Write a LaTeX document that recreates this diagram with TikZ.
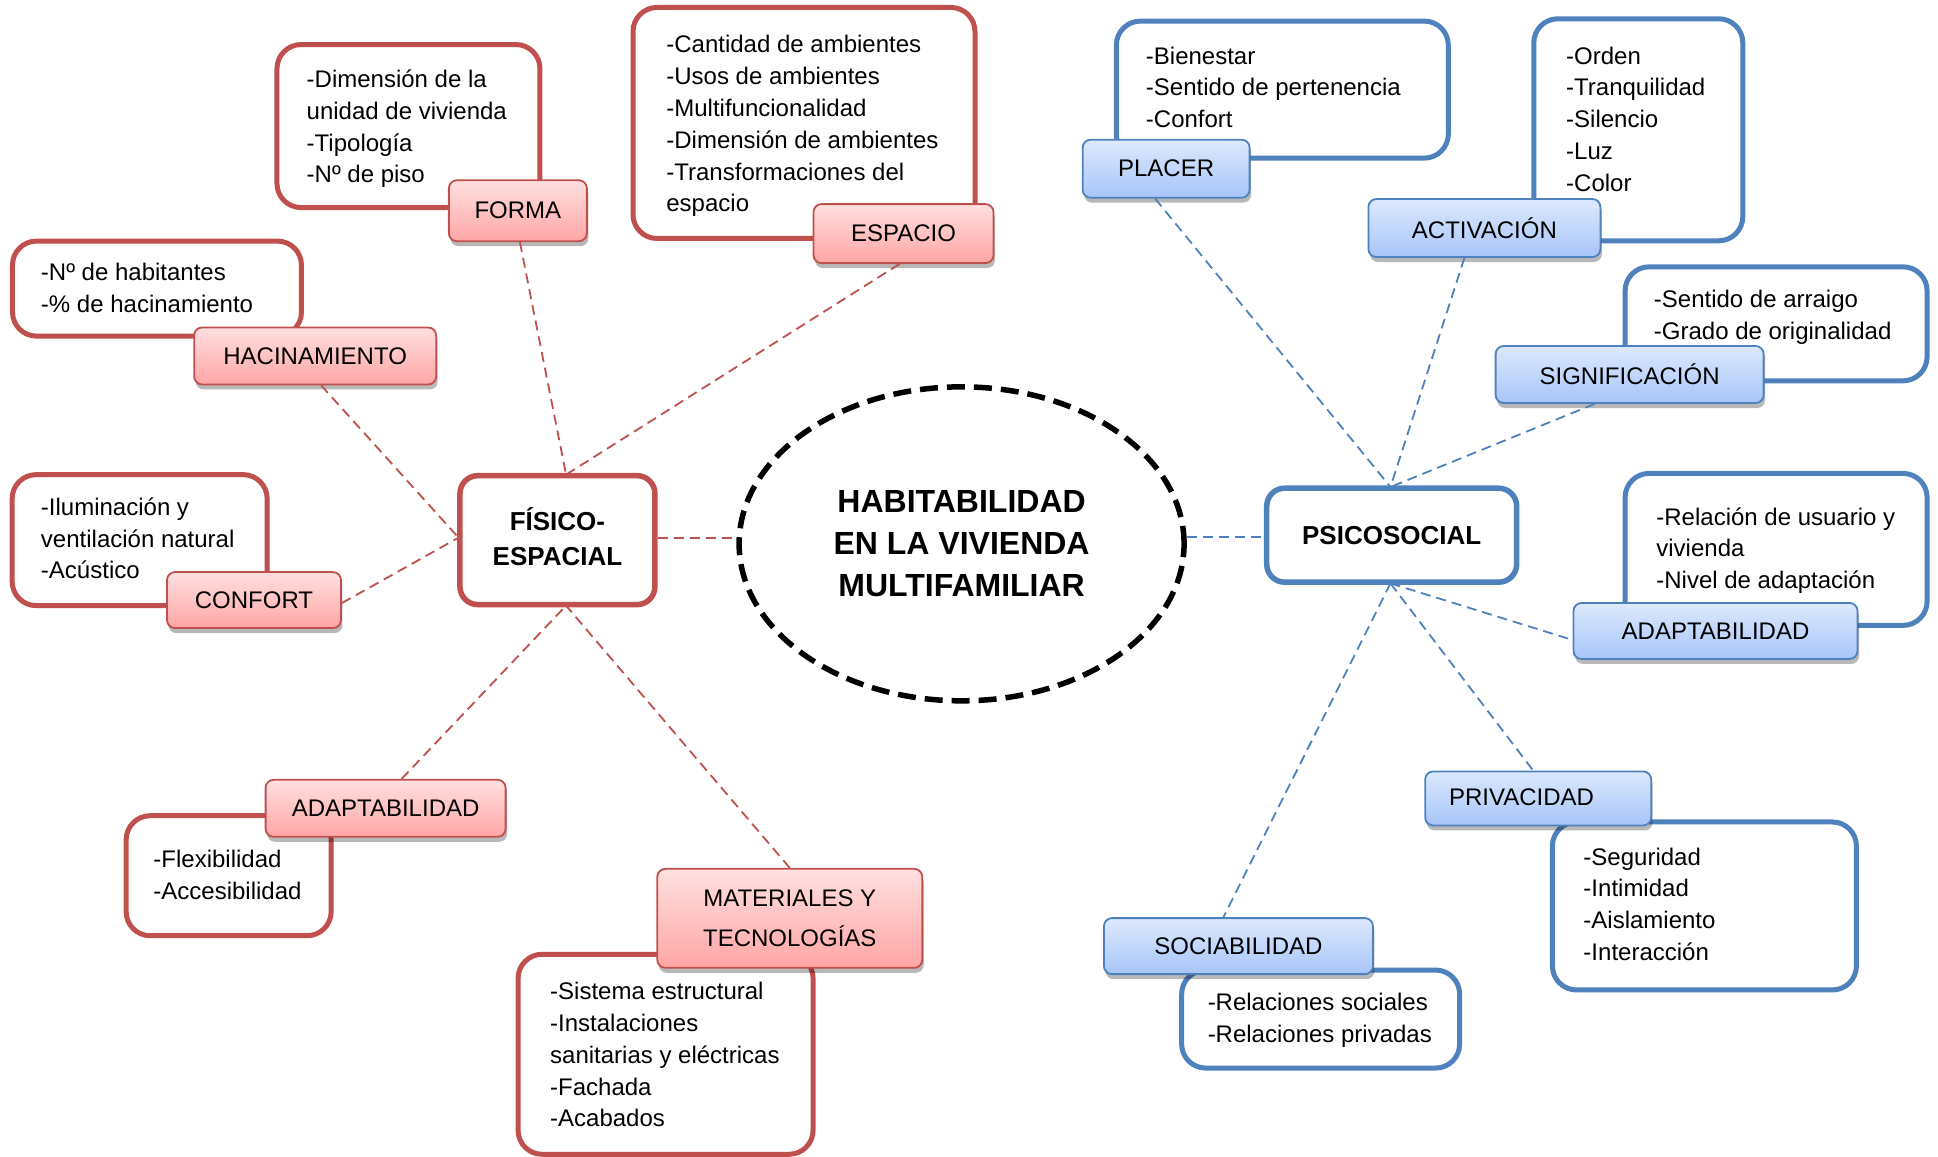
\documentclass[tikz,border=0pt]{standalone}
\usepackage{fontspec}
\setmainfont{Liberation Sans}
\usetikzlibrary{shapes.geometric,shadows,calc}
\definecolor{redline}{HTML}{C0504D}
\definecolor{redtop}{HTML}{FFE0E0}
\definecolor{redbot}{HTML}{FFA5A5}
\definecolor{blueline}{HTML}{4F81BD}
\definecolor{bluetop}{HTML}{DDE9FD}
\definecolor{bluebot}{HTML}{A7C5F9}
\begin{document}
\begin{tikzpicture}[x=1.236pt,y=-1.236pt,
 detbox/.style={draw, line width=5pt, rounded corners=24pt, fill=white, inner sep=0pt},
 reddet/.style={detbox, draw=redline},
 bluedet/.style={detbox, draw=blueline},
 lbl/.style={rounded corners=8pt, line width=1.8pt, inner sep=0pt, font=\fontsize{24}{40}\selectfont, align=center,
   drop shadow={shadow xshift=1.5pt, shadow yshift=-5pt, opacity=0.28, fill=black}},
 redlbl/.style={lbl, draw=redline, top color=redtop, bottom color=redbot},
 bluelbl/.style={lbl, draw=blueline, top color=bluetop, bottom color=bluebot},
 dtext/.style={inner sep=0pt, align=left, anchor=north west, font=\fontsize{24}{31.8}\selectfont},
 ltext/.style={inner sep=0pt, font=\fontsize{24}{29}\selectfont},
 mainbox/.style={draw, fill=white, line width=5.5pt, rounded corners=18pt, inner sep=0pt, align=center,
   font=\fontsize{26}{35}\selectfont\bfseries},
 redconn/.style={draw=redline, line width=1.8pt, dash pattern=on 10pt off 6pt},
 blueconn/.style={draw=blueline, line width=1.8pt, dash pattern=on 10pt off 6pt}
]
\useasboundingbox (0,0) rectangle (1568,936);

% ---------- central ellipse and main boxes ----------
\node[ellipse, draw=black, line width=5.5pt, dash pattern=on 18pt off 9pt, minimum width=445pt, minimum height=314pt,
  inner sep=0pt, align=center, font=\fontsize{32}{42}\selectfont\bfseries] (ell) at (778,440)
  {HABITABILIDAD\\EN LA VIVIENDA\\MULTIFAMILIAR};
\node[mainbox, draw=redline, minimum width=195pt, minimum height=129pt] (fis) at (451,437) {FÍSICO-\\ESPACIAL\rule[-8pt]{0pt}{0pt}};
\node[mainbox, draw=blueline, minimum width=250pt, minimum height=94pt] (psi) at (1126,433) {PSICOSOCIAL};

\coordinate (fisTop) at (458,384);
\coordinate (fisLeft) at (371,435);
\coordinate (fisBot) at (458,490);
\coordinate (psiTop) at (1125,394);
\coordinate (psiBot) at (1125,472);

% ---------- red detail boxes ----------
\node[reddet, minimum width=263pt, minimum height=163pt] (fD) at (330.5,102) {};
\node[dtext] (fT) at (248,52.7) {\strut -Dimensión de la\\unidad de vivienda\\-Tipología\\-Nº de piso};
\node[reddet, minimum width=342pt, minimum height=231pt] (eD) at (650.5,99.5) {};
\node[dtext] (eT) at (539,24.7) {\strut -Cantidad de ambientes\\-Usos de ambientes\\-Multifuncionalidad\\-Dimensión de ambientes\\-Transformaciones del\\espacio};
\node[reddet, minimum width=289pt, minimum height=95pt] (hD) at (127,233.5) {};
\node[dtext] (hT) at (33,208.7) {\strut -Nº de habitantes\\-\% de hacinamiento};
\node[reddet, minimum width=255pt, minimum height=131pt] (cD) at (113,437) {};
\node[dtext] (cT) at (33,398.7) {\strut -Iluminación y\\ventilación natural\\-Acústico};
\node[reddet, minimum width=205pt, minimum height=120pt] (aD) at (185,708.5) {};
\node[dtext] (aT) at (124,683.7) {\strut -Flexibilidad\\-Accesibilidad};
\node[reddet, minimum width=295pt, minimum height=200pt] (mD) at (538.5,853) {};
\node[dtext] (mT) at (445,790.7) {\strut -Sistema estructural\\-Instalaciones\\sanitarias y eléctricas\\-Fachada\\-Acabados};

% ---------- blue detail boxes ----------
\node[bluedet, minimum width=332pt, minimum height=137pt] (pD) at (1037.5,72.5) {};
\node[dtext] (pT) at (927,33.7) {\strut -Bienestar\\-Sentido de pertenencia\\-Confort};
\node[bluedet, minimum width=209pt, minimum height=222pt] (acD) at (1325.5,105) {};
\node[dtext] (acT) at (1267,33.7) {\strut -Orden\\-Tranquilidad\\-Silencio\\-Luz\\-Color};
\node[bluedet, minimum width=302pt, minimum height=114pt] (sD) at (1437,262) {};
\node[dtext] (sT) at (1338,230.7) {\strut -Sentido de arraigo\\-Grado de originalidad};
\node[bluedet, minimum width=302pt, minimum height=152pt] (adD) at (1437,444.5) {};
\node[dtext] (adT) at (1340,406.7) {\strut -Relación de usuario y\\vivienda\\-Nivel de adaptación};
\node[bluedet, minimum width=304pt, minimum height=168pt] (prD) at (1379,733) {};
\node[dtext] (prT) at (1281,681.7) {\strut -Seguridad\\-Intimidad\\-Aislamiento\\-Interacción};
\node[bluedet, minimum width=278pt, minimum height=98pt] (soD) at (1068.5,824.5) {};
\node[dtext] (soT) at (977,799.7) {\strut -Relaciones sociales\\-Relaciones privadas};

% ---------- red labels ----------
\node[redlbl, minimum width=138pt, minimum height=61pt] (fL) at (419,170.5) {FORMA};
\node[redlbl, minimum width=180pt, minimum height=59pt] (eL) at (731,189) {ESPACIO};
\node[redlbl, minimum width=242pt, minimum height=57pt] (hL) at (255,288) {HACINAMIENTO};
\node[redlbl, minimum width=174pt, minimum height=56pt] (cL) at (205.5,485.5) {CONFORT};
\node[redlbl, minimum width=240pt, minimum height=57pt] (aL) at (312,654) {ADAPTABILIDAD};
\node[redlbl, minimum width=265pt, minimum height=99pt] (mL) at (639,743) {MATERIALES Y\\TECNOLOGÍAS};

% ---------- blue labels ----------
\node[bluelbl, minimum width=167pt, minimum height=58pt] (pL) at (943.5,136.5) {PLACER};
\node[bluelbl, minimum width=232pt, minimum height=58pt] (acL) at (1201,184.5) {ACTIVACIÓN};
\node[bluelbl, minimum width=268pt, minimum height=57pt] (sL) at (1318.5,303) {SIGNIFICACIÓN};
\node[bluelbl, minimum width=284pt, minimum height=56pt] (adL) at (1388,510.5) {ADAPTABILIDAD};
\node[bluelbl, minimum width=226pt, minimum height=54pt] (prL) at (1244.5,646) {};
\node[ltext] (prLT) at (1231,645) {PRIVACIDAD};
\node[bluelbl, minimum width=269pt, minimum height=56pt] (soL) at (1002,765.5) {SOCIABILIDAD};

% ---------- connectors ----------
\coordinate (ellL) at (ell.west);
\draw[redconn] ([yshift=2pt]fis.east) -- ([yshift=2pt]fis.east -| ellL);
\draw[blueconn] ([yshift=-2pt]psi.west -| ell.east) -- ([yshift=-2pt]psi.west);

\draw[redconn] ([xshift=2pt]fL.south) -- (fisTop);
\draw[redconn] ([xshift=-4pt]eL.south) -- (fisTop);
\draw[redconn] ([xshift=6pt]hL.south) -- (fisLeft);
\draw[redconn] ([yshift=-3pt]cL.east) -- (fisLeft);
\draw[redconn] ([xshift=16pt]aL.north) -- (fisBot);
\draw[redconn] (mL.north) -- (fisBot);

\draw[blueconn] ([xshift=-11pt]pL.south) -- (psiTop);
\draw[blueconn] ([xshift=-20pt]acL.south) -- (psiTop);
\draw[blueconn] ([xshift=-35pt]sL.south) -- (psiTop);
\draw[blueconn] (psiBot) -- ([yshift=-9pt]adL.west);
\draw[blueconn] (psiBot) -- ([xshift=-5pt]prL.north);
\draw[blueconn] (psiBot) -- ([xshift=-15pt]soL.north);
\end{tikzpicture}
\end{document}
